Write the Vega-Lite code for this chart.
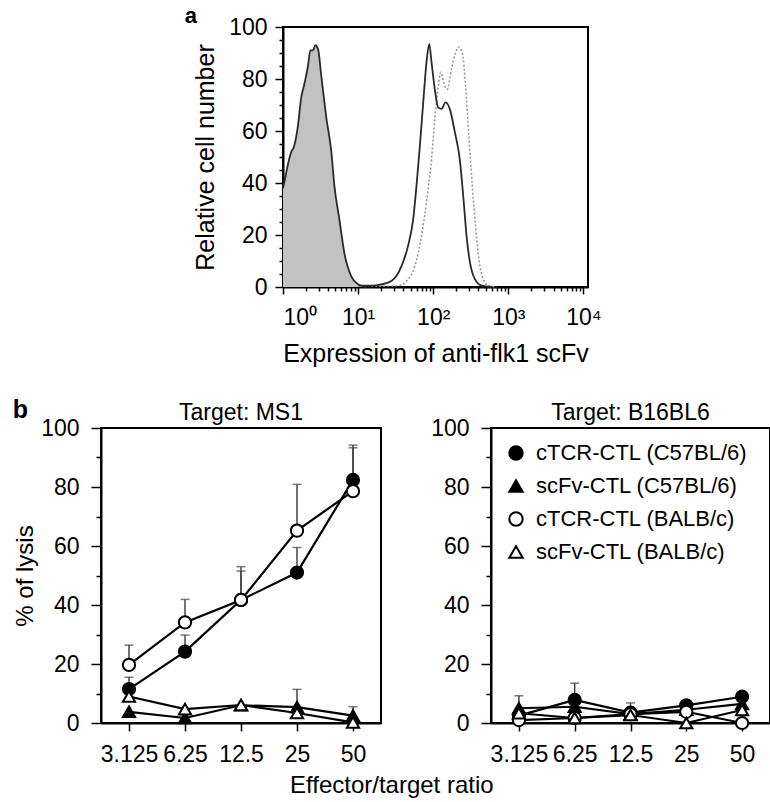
{
  "$schema": "https://vega.github.io/schema/vega-lite/v6.json",
  "background": "white",
  "padding": {"left": 12, "top": 4, "right": 0, "bottom": 0},
  "config": {
    "font": "Liberation Sans",
    "view": {"stroke": "black", "strokeWidth": 2},
    "axis": {"grid": false, "domainColor": "black", "domainWidth": 2, "tickColor": "black", "tickWidth": 1.5, "labelColor": "black", "titleColor": "black", "titleFontWeight": "normal", "labelFont": "Liberation Sans", "titleFont": "Liberation Sans"},
    "title": {"font": "Liberation Sans", "color": "black"},
    "legend": {"labelFont": "Liberation Sans", "labelColor": "black"}
  },
  "datasets": {
    "ctrl": [
      {"x": 1.0, "y": 38}, {"x": 1.07, "y": 42}, {"x": 1.14, "y": 46}, {"x": 1.29, "y": 52}, {"x": 1.4, "y": 54},
      {"x": 1.58, "y": 62}, {"x": 1.75, "y": 73}, {"x": 1.92, "y": 78}, {"x": 2.15, "y": 85}, {"x": 2.31, "y": 91},
      {"x": 2.51, "y": 91}, {"x": 2.7, "y": 93}, {"x": 2.93, "y": 91.5}, {"x": 3.24, "y": 81}, {"x": 3.78, "y": 65},
      {"x": 4.4, "y": 52}, {"x": 4.83, "y": 39}, {"x": 5.63, "y": 26}, {"x": 6.56, "y": 13}, {"x": 8.14, "y": 4},
      {"x": 10.1, "y": 1}, {"x": 12.9, "y": 0}
    ],
    "solid": [
      {"x": 10.1, "y": 0.5}, {"x": 15.0, "y": 0.5}, {"x": 20.4, "y": 1}, {"x": 27.8, "y": 2.3}, {"x": 37.8, "y": 8},
      {"x": 46.4, "y": 16}, {"x": 54.1, "y": 26}, {"x": 59.9, "y": 39}, {"x": 66.3, "y": 54}, {"x": 73.6, "y": 71},
      {"x": 81.4, "y": 86.5}, {"x": 88.5, "y": 93.5}, {"x": 94.9, "y": 86.5}, {"x": 105, "y": 76}, {"x": 116.6, "y": 69},
      {"x": 129, "y": 68.5}, {"x": 146, "y": 71}, {"x": 166, "y": 68.5}, {"x": 194, "y": 59.6}, {"x": 226, "y": 49},
      {"x": 251, "y": 35}, {"x": 278, "y": 19.6}, {"x": 308, "y": 9.6}, {"x": 359, "y": 3}, {"x": 441, "y": 0.5}, {"x": 599, "y": 0}
    ],
    "dotted": [
      {"x": 15.0, "y": 0.3}, {"x": 34.1, "y": 0.5}, {"x": 46.4, "y": 3}, {"x": 56.9, "y": 8}, {"x": 69.8, "y": 19.6},
      {"x": 81.4, "y": 32.7}, {"x": 94.9, "y": 49}, {"x": 105, "y": 64.6}, {"x": 116.6, "y": 77}, {"x": 126, "y": 82.6},
      {"x": 140, "y": 78}, {"x": 154, "y": 76}, {"x": 175, "y": 84}, {"x": 198, "y": 90}, {"x": 219, "y": 92.3},
      {"x": 244, "y": 90}, {"x": 270, "y": 77}, {"x": 298, "y": 58}, {"x": 331, "y": 39}, {"x": 366, "y": 23.5},
      {"x": 405, "y": 10.8}, {"x": 464, "y": 3}, {"x": 541, "y": 0.5}, {"x": 698, "y": 0}
    ],
    "lysis": [
      {"target": "MS1", "series": "cTCR-CTL (C57BL/6)", "ratio": 3.125, "value": 11.5},
      {"target": "MS1", "series": "cTCR-CTL (C57BL/6)", "ratio": 6.25, "value": 24.2},
      {"target": "MS1", "series": "cTCR-CTL (C57BL/6)", "ratio": 12.5, "value": 41.7},
      {"target": "MS1", "series": "cTCR-CTL (C57BL/6)", "ratio": 25, "value": 51},
      {"target": "MS1", "series": "cTCR-CTL (C57BL/6)", "ratio": 50, "value": 82.4},
      {"target": "MS1", "series": "scFv-CTL (C57BL/6)", "ratio": 3.125, "value": 3.8},
      {"target": "MS1", "series": "scFv-CTL (C57BL/6)", "ratio": 6.25, "value": 1.7},
      {"target": "MS1", "series": "scFv-CTL (C57BL/6)", "ratio": 12.5, "value": 6.0},
      {"target": "MS1", "series": "scFv-CTL (C57BL/6)", "ratio": 25, "value": 5.4},
      {"target": "MS1", "series": "scFv-CTL (C57BL/6)", "ratio": 50, "value": 2.5},
      {"target": "MS1", "series": "cTCR-CTL (BALB/c)", "ratio": 3.125, "value": 19.7},
      {"target": "MS1", "series": "cTCR-CTL (BALB/c)", "ratio": 6.25, "value": 34.1},
      {"target": "MS1", "series": "cTCR-CTL (BALB/c)", "ratio": 12.5, "value": 41.7},
      {"target": "MS1", "series": "cTCR-CTL (BALB/c)", "ratio": 25, "value": 65.2},
      {"target": "MS1", "series": "cTCR-CTL (BALB/c)", "ratio": 50, "value": 78.6},
      {"target": "MS1", "series": "scFv-CTL (BALB/c)", "ratio": 3.125, "value": 9.0},
      {"target": "MS1", "series": "scFv-CTL (BALB/c)", "ratio": 6.25, "value": 4.7},
      {"target": "MS1", "series": "scFv-CTL (BALB/c)", "ratio": 12.5, "value": 6.1},
      {"target": "MS1", "series": "scFv-CTL (BALB/c)", "ratio": 25, "value": 3.4},
      {"target": "MS1", "series": "scFv-CTL (BALB/c)", "ratio": 50, "value": 0.2},
      {"target": "B16BL6", "series": "cTCR-CTL (C57BL/6)", "ratio": 3.125, "value": 2.5},
      {"target": "B16BL6", "series": "cTCR-CTL (C57BL/6)", "ratio": 6.25, "value": 7.8},
      {"target": "B16BL6", "series": "cTCR-CTL (C57BL/6)", "ratio": 12.5, "value": 3.5},
      {"target": "B16BL6", "series": "cTCR-CTL (C57BL/6)", "ratio": 25, "value": 6.0},
      {"target": "B16BL6", "series": "cTCR-CTL (C57BL/6)", "ratio": 50, "value": 8.9},
      {"target": "B16BL6", "series": "scFv-CTL (C57BL/6)", "ratio": 3.125, "value": 5.0},
      {"target": "B16BL6", "series": "scFv-CTL (C57BL/6)", "ratio": 6.25, "value": 5.5},
      {"target": "B16BL6", "series": "scFv-CTL (C57BL/6)", "ratio": 12.5, "value": 3.0},
      {"target": "B16BL6", "series": "scFv-CTL (C57BL/6)", "ratio": 25, "value": 4.5},
      {"target": "B16BL6", "series": "scFv-CTL (C57BL/6)", "ratio": 50, "value": 6.5},
      {"target": "B16BL6", "series": "cTCR-CTL (BALB/c)", "ratio": 3.125, "value": 1.0},
      {"target": "B16BL6", "series": "cTCR-CTL (BALB/c)", "ratio": 6.25, "value": 1.7},
      {"target": "B16BL6", "series": "cTCR-CTL (BALB/c)", "ratio": 12.5, "value": 3.0},
      {"target": "B16BL6", "series": "cTCR-CTL (BALB/c)", "ratio": 25, "value": 3.8},
      {"target": "B16BL6", "series": "cTCR-CTL (BALB/c)", "ratio": 50, "value": 0.0},
      {"target": "B16BL6", "series": "scFv-CTL (BALB/c)", "ratio": 3.125, "value": 3.3},
      {"target": "B16BL6", "series": "scFv-CTL (BALB/c)", "ratio": 6.25, "value": 1.7},
      {"target": "B16BL6", "series": "scFv-CTL (BALB/c)", "ratio": 12.5, "value": 2.7},
      {"target": "B16BL6", "series": "scFv-CTL (BALB/c)", "ratio": 25, "value": 0.0},
      {"target": "B16BL6", "series": "scFv-CTL (BALB/c)", "ratio": 50, "value": 4.4}
    ],
    "err": [
      {"target": "MS1", "series": "cTCR-CTL (C57BL/6)", "ratio": 3.125, "value": 11.5, "upper": 15.5},
      {"target": "MS1", "series": "cTCR-CTL (C57BL/6)", "ratio": 6.25, "value": 24.2, "upper": 29.8},
      {"target": "MS1", "series": "cTCR-CTL (C57BL/6)", "ratio": 12.5, "value": 41.7, "upper": 51.5},
      {"target": "MS1", "series": "cTCR-CTL (C57BL/6)", "ratio": 25, "value": 51, "upper": 59.5},
      {"target": "MS1", "series": "cTCR-CTL (C57BL/6)", "ratio": 50, "value": 82.4, "upper": 93.3},
      {"target": "MS1", "series": "cTCR-CTL (BALB/c)", "ratio": 3.125, "value": 19.7, "upper": 26.4},
      {"target": "MS1", "series": "cTCR-CTL (BALB/c)", "ratio": 6.25, "value": 34.1, "upper": 41.9},
      {"target": "MS1", "series": "cTCR-CTL (BALB/c)", "ratio": 12.5, "value": 41.7, "upper": 53},
      {"target": "MS1", "series": "cTCR-CTL (BALB/c)", "ratio": 25, "value": 65.2, "upper": 80.9},
      {"target": "MS1", "series": "cTCR-CTL (BALB/c)", "ratio": 50, "value": 78.6, "upper": 94.2},
      {"target": "MS1", "series": "scFv-CTL (C57BL/6)", "ratio": 25, "value": 5.4, "upper": 11.4},
      {"target": "MS1", "series": "scFv-CTL (C57BL/6)", "ratio": 50, "value": 2.5, "upper": 5.5},
      {"target": "B16BL6", "series": "scFv-CTL (C57BL/6)", "ratio": 3.125, "value": 5.0, "upper": 9.2},
      {"target": "B16BL6", "series": "cTCR-CTL (C57BL/6)", "ratio": 6.25, "value": 7.8, "upper": 13.5},
      {"target": "B16BL6", "series": "cTCR-CTL (C57BL/6)", "ratio": 12.5, "value": 3.5, "upper": 6.8}
    ]
  },
  "bounds": "flush",
  "spacing": 401,
  "vconcat": [
    {
      "bounds": "flush",
      "spacing": 181,
      "hconcat": [
        {"width": 1, "height": 1, "data": {"values": []}, "mark": "point", "view": {"stroke": null}},
        {
          "title": {"text": "a", "anchor": "start", "fontSize": 22, "fontWeight": "bold", "dx": -9, "dy": 20, "offset": 8},
          "width": 305,
          "height": 260,
          "encoding": {
            "x": {"field": "x", "type": "quantitative",
              "scale": {"type": "log", "domain": [1, 11500], "nice": false},
              "axis": {"title": "Expression of anti-flk1 scFv", "titleFontSize": 25, "titlePadding": 12, "labelFontSize": 23, "labelPadding": 12,
                "values": [1,2,3,4,5,6,7,8,9,10,20,30,40,50,60,70,80,90,100,200,300,400,500,600,700,800,900,1000,2000,3000,4000,5000,6000,7000,8000,9000,10000],
                "labelExpr": "datum.value == 1 ? '10⁰' : datum.value == 10 ? '10¹' : datum.value == 100 ? '10²' : datum.value == 1000 ? '10³' : datum.value == 10000 ? '10⁴' : ''",
                "tickSize": {"condition": {"test": "datum.value == 1 || datum.value == 10 || datum.value == 100 || datum.value == 1000 || datum.value == 10000", "value": 7}, "value": 4},
                "labelOverlap": false}},
            "y": {"field": "y", "type": "quantitative",
              "scale": {"domain": [0, 100], "nice": false},
              "axis": {"title": "Relative cell number", "titleFontSize": 25, "titlePadding": 10, "labelFontSize": 23, "labelPadding": 8,
                "values": [0,5,10,15,20,25,30,35,40,45,50,55,60,65,70,75,80,85,90,95,100],
                "labelExpr": "datum.value % 20 === 0 ? datum.label : ''",
                "tickSize": {"condition": {"test": "datum.value % 20 === 0", "value": 8}, "value": 4},
                "labelOverlap": false}}
          },
          "layer": [
            {"data": {"name": "ctrl"}, "mark": {"type": "area", "color": "#c2c2c2", "interpolate": "monotone"}},
            {"data": {"name": "ctrl"}, "mark": {"type": "line", "color": "#2a2a2a", "strokeWidth": 1.8, "interpolate": "monotone"}},
            {"data": {"name": "dotted"}, "mark": {"type": "line", "color": "#9a9a9a", "strokeWidth": 1.6, "strokeDash": [2, 2], "interpolate": "monotone"}},
            {"data": {"name": "solid"}, "mark": {"type": "line", "color": "#2a2a2a", "strokeWidth": 1.8, "interpolate": "monotone"}}
          ]
        }
      ]
    },
    {
      "title": {"text": "b", "anchor": "start", "fontSize": 25, "fontWeight": "bold", "dx": 0, "dy": 26},
      "bounds": "flush",
      "vconcat": [
        {
          "title": {"text": "Effector/target ratio", "orient": "bottom", "anchor": "middle", "fontSize": 24, "fontWeight": "normal", "offset": 7},
          "bounds": "flush",
          "spacing": 110,
          "resolve": {"scale": {"shape": "independent", "fill": "independent", "stroke": "independent"}},
          "hconcat": [
            {
              "title": {"text": "Target: MS1", "fontSize": 23, "fontWeight": "normal", "offset": 6, "dy": 14},
              "width": 280,
              "height": 295,
              "encoding": {
                "x": {"field": "ratio", "type": "ordinal",
                  "scale": {"type": "point", "padding": 0.5, "domain": [3.125, 6.25, 12.5, 25, 50]},
                  "axis": {"title": null, "labelAngle": 0, "labelFontSize": 23, "tickSize": 8, "labelPadding": 12}},
                "y": {"field": "value", "type": "quantitative",
                  "scale": {"domain": [0, 100], "nice": false},
                  "axis": {"title": "% of lysis", "titleFontSize": 24, "titlePadding": 3, "labelFontSize": 23, "labelPadding": 12,
                    "values": [0,10,20,30,40,50,60,70,80,90,100],
                    "labelExpr": "datum.value % 20 === 0 ? datum.label : ''",
                    "tickSize": {"condition": {"test": "datum.value % 20 === 0", "value": 10}, "value": 5},
                    "labelOverlap": false}}
              },
              "layer": [
                {"data": {"name": "err"}, "transform": [{"filter": "datum.target === 'MS1'"}], "mark": {"type": "rule", "color": "#444", "strokeWidth": 1.5}, "encoding": {"y2": {"field": "upper"}}},
                {"data": {"name": "err"}, "transform": [{"filter": "datum.target === 'MS1'"}], "mark": {"type": "tick", "color": "#444", "thickness": 1.5, "size": 9, "orient": "horizontal"},
                  "encoding": {"y": {"field": "upper", "type": "quantitative",
                    "axis": {"title": "% of lysis", "titleFontSize": 24, "titlePadding": 3, "labelFontSize": 23, "labelPadding": 12,
                      "values": [0,10,20,30,40,50,60,70,80,90,100],
                      "labelExpr": "datum.value % 20 === 0 ? datum.label : ''",
                      "tickSize": {"condition": {"test": "datum.value % 20 === 0", "value": 10}, "value": 5},
                      "labelOverlap": false}}}},
                {"data": {"name": "lysis"}, "transform": [{"filter": "datum.target === 'MS1'"}], "mark": {"type": "line", "color": "black", "strokeWidth": 2.2}, "encoding": {"detail": {"field": "series"}}},
                {"data": {"name": "lysis"}, "transform": [{"filter": "datum.target === 'MS1'"}], "mark": {"type": "point", "filled": true, "strokeWidth": 2, "size": 150, "opacity": 1},
                  "encoding": {
                    "shape": {"field": "series", "type": "nominal", "scale": {"domain": ["cTCR-CTL (C57BL/6)", "scFv-CTL (C57BL/6)", "cTCR-CTL (BALB/c)", "scFv-CTL (BALB/c)"], "range": ["circle", "triangle-up", "circle", "triangle-up"]}, "legend": null},
                    "fill": {"field": "series", "type": "nominal", "scale": {"domain": ["cTCR-CTL (C57BL/6)", "scFv-CTL (C57BL/6)", "cTCR-CTL (BALB/c)", "scFv-CTL (BALB/c)"], "range": ["black", "black", "white", "white"]}, "legend": null},
                    "stroke": {"field": "series", "type": "nominal", "scale": {"domain": ["cTCR-CTL (C57BL/6)", "scFv-CTL (C57BL/6)", "cTCR-CTL (BALB/c)", "scFv-CTL (BALB/c)"], "range": ["black", "black", "black", "black"]}, "legend": null}
                  }}
              ]
            },
            {
              "title": {"text": "Target: B16BL6", "fontSize": 23, "fontWeight": "normal", "offset": 6, "dy": 14},
              "width": 279,
              "height": 295,
              "encoding": {
                "x": {"field": "ratio", "type": "ordinal",
                  "scale": {"type": "point", "padding": 0.5, "domain": [3.125, 6.25, 12.5, 25, 50]},
                  "axis": {"title": null, "labelAngle": 0, "labelFontSize": 23, "tickSize": 8, "labelPadding": 12}},
                "y": {"field": "value", "type": "quantitative",
                  "scale": {"domain": [0, 100], "nice": false},
                  "axis": {"title": null, "labelFontSize": 23, "labelPadding": 12,
                    "values": [0,10,20,30,40,50,60,70,80,90,100],
                    "labelExpr": "datum.value % 20 === 0 ? datum.label : ''",
                    "tickSize": {"condition": {"test": "datum.value % 20 === 0", "value": 10}, "value": 5},
                    "labelOverlap": false}}
              },
              "layer": [
                {"data": {"name": "err"}, "transform": [{"filter": "datum.target === 'B16BL6'"}], "mark": {"type": "rule", "color": "#444", "strokeWidth": 1.5}, "encoding": {"y2": {"field": "upper"}}},
                {"data": {"name": "err"}, "transform": [{"filter": "datum.target === 'B16BL6'"}], "mark": {"type": "tick", "color": "#444", "thickness": 1.5, "size": 9, "orient": "horizontal"},
                  "encoding": {"y": {"field": "upper", "type": "quantitative",
                    "axis": {"title": null, "labelFontSize": 23, "labelPadding": 12,
                      "values": [0,10,20,30,40,50,60,70,80,90,100],
                      "labelExpr": "datum.value % 20 === 0 ? datum.label : ''",
                      "tickSize": {"condition": {"test": "datum.value % 20 === 0", "value": 10}, "value": 5},
                      "labelOverlap": false}}}},
                {"data": {"name": "lysis"}, "transform": [{"filter": "datum.target === 'B16BL6'"}], "mark": {"type": "line", "color": "black", "strokeWidth": 2.2}, "encoding": {"detail": {"field": "series"}}},
                {"data": {"name": "lysis"}, "transform": [{"filter": "datum.target === 'B16BL6'"}], "mark": {"type": "point", "filled": true, "strokeWidth": 2, "size": 150, "opacity": 1},
                  "encoding": {
                    "shape": {"field": "series", "type": "nominal", "scale": {"domain": ["cTCR-CTL (C57BL/6)", "scFv-CTL (C57BL/6)", "cTCR-CTL (BALB/c)", "scFv-CTL (BALB/c)"], "range": ["circle", "triangle-up", "circle", "triangle-up"]},
                      "legend": {"title": null, "orient": "top-left", "offset": 14, "padding": 0, "labelFontSize": 22, "labelLimit": 0, "symbolSize": 180, "symbolStrokeWidth": 2, "rowPadding": 11, "labelOffset": 9}},
                    "fill": {"field": "series", "type": "nominal", "scale": {"domain": ["cTCR-CTL (C57BL/6)", "scFv-CTL (C57BL/6)", "cTCR-CTL (BALB/c)", "scFv-CTL (BALB/c)"], "range": ["black", "black", "white", "white"]},
                      "legend": {"title": null, "orient": "top-left", "offset": 14, "padding": 0, "labelFontSize": 22, "labelLimit": 0, "symbolSize": 180, "symbolStrokeWidth": 2, "rowPadding": 11, "labelOffset": 9}},
                    "stroke": {"field": "series", "type": "nominal", "scale": {"domain": ["cTCR-CTL (C57BL/6)", "scFv-CTL (C57BL/6)", "cTCR-CTL (BALB/c)", "scFv-CTL (BALB/c)"], "range": ["black", "black", "black", "black"]},
                      "legend": {"title": null, "orient": "top-left", "offset": 14, "padding": 0, "labelFontSize": 22, "labelLimit": 0, "symbolSize": 180, "symbolStrokeWidth": 2, "rowPadding": 11, "labelOffset": 9}}
                  }}
              ]
            }
          ]
        }
      ]
    }
  ]
}
